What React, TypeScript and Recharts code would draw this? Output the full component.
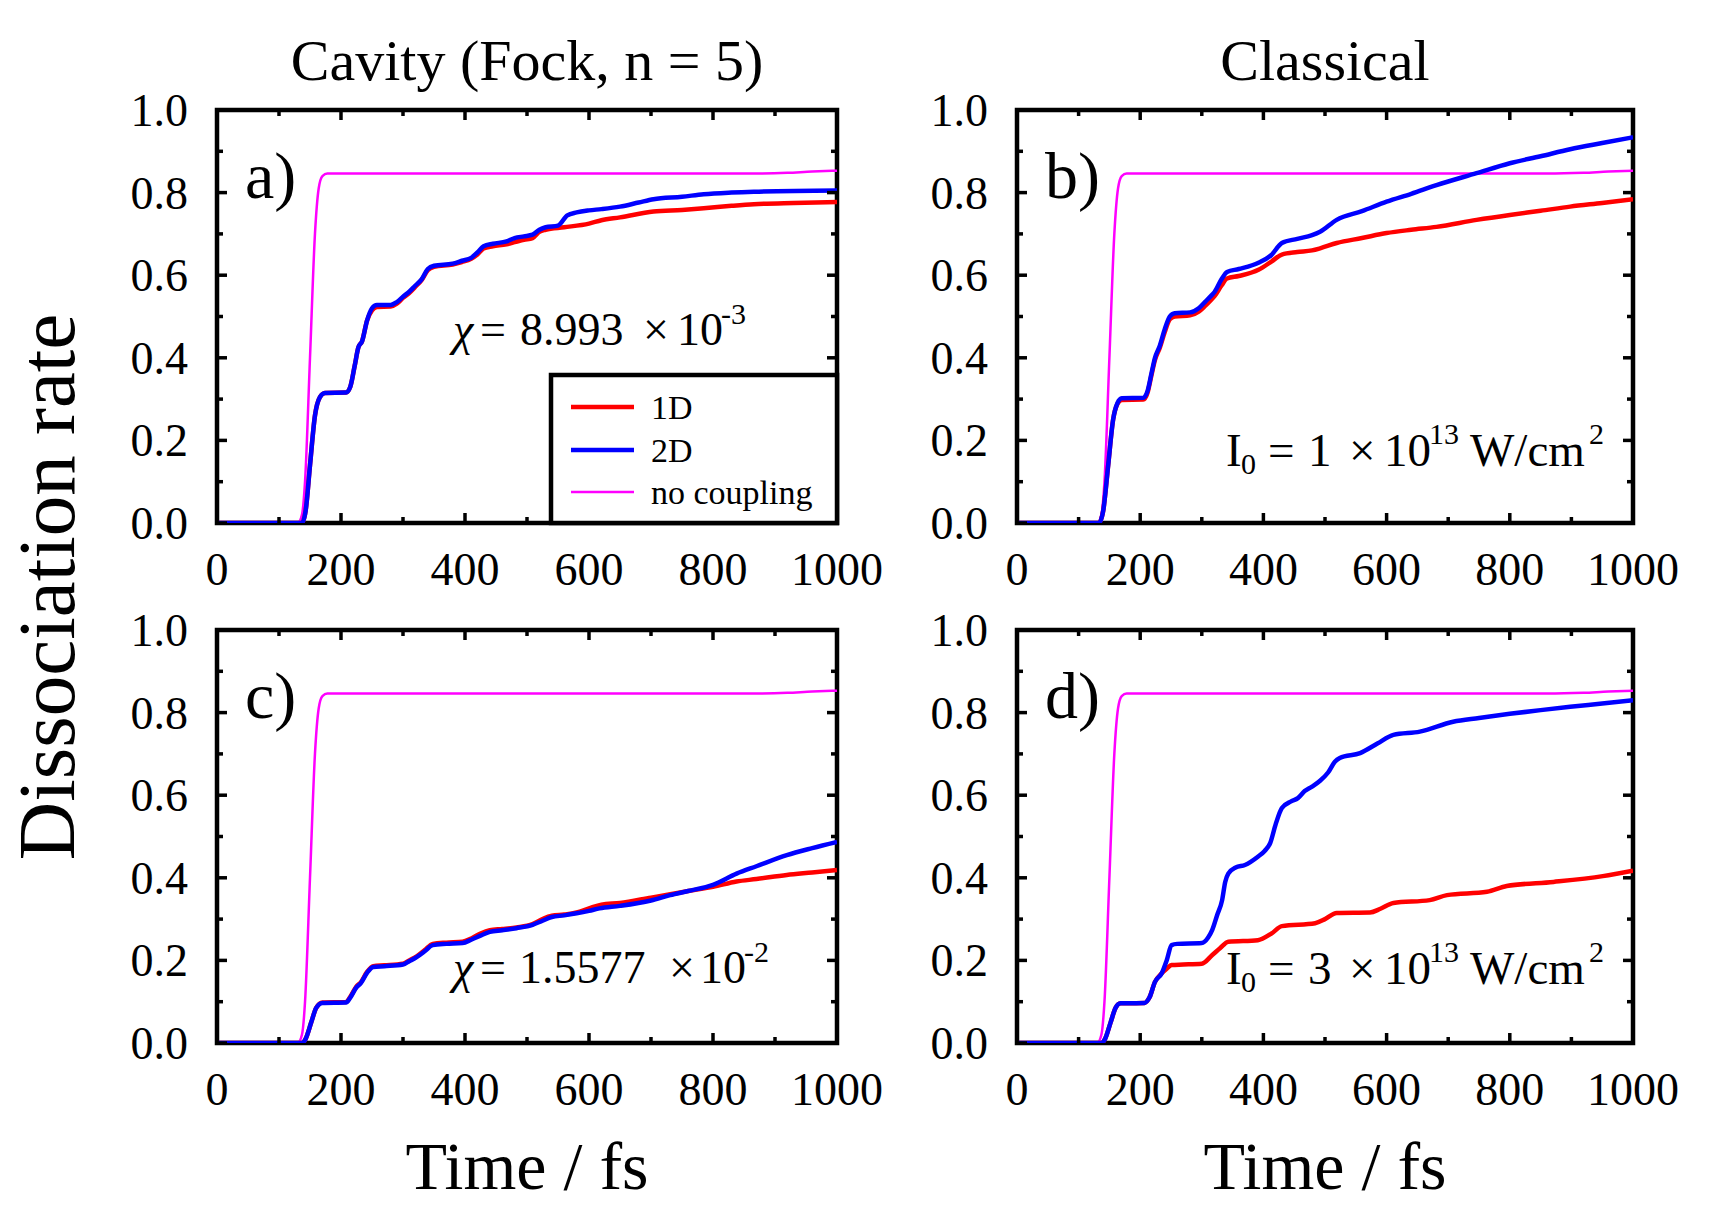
import React from "react";
import { LineChart, Line, XAxis, YAxis, ReferenceArea } from "recharts";

// Dissociation rate vs time (fs). Each curve keeps its own time grid.
const noCouplingT = [0, 130, 137, 142, 150, 158, 164, 170, 178, 860, 920, 960, 1000];
const noCouplingV = [0, 0, 0.02, 0.1, 0.4, 0.7, 0.81, 0.84, 0.846, 0.846, 0.848, 0.851, 0.853];

// a) cavity, chi = 8.993e-3
const aBlueT = [0, 137, 143, 150, 158, 166, 174, 208, 215, 222, 228, 234, 242, 250, 258, 280, 290, 300, 310, 320, 330, 340, 350, 380, 395, 410, 420, 430, 445, 467, 480, 495, 509, 520, 530, 550, 565, 580, 600, 620, 650, 680, 704, 750, 785, 830, 866, 1000];
const aBlueV = [0, 0, 0.03, 0.14, 0.26, 0.305, 0.315, 0.316, 0.33, 0.38, 0.425, 0.44, 0.49, 0.52, 0.528, 0.528, 0.535, 0.548, 0.56, 0.575, 0.59, 0.615, 0.623, 0.628, 0.635, 0.642, 0.655, 0.67, 0.676, 0.682, 0.69, 0.694, 0.698, 0.71, 0.716, 0.72, 0.745, 0.752, 0.757, 0.76, 0.766, 0.776, 0.784, 0.79, 0.796, 0.8, 0.802, 0.805];
const aRedT = [0, 137, 143, 150, 158, 166, 174, 208, 215, 222, 228, 234, 242, 250, 258, 280, 290, 300, 310, 320, 330, 340, 350, 380, 395, 410, 420, 430, 445, 467, 480, 495, 509, 520, 530, 560, 600, 620, 650, 704, 750, 785, 830, 866, 930, 1000];
const aRedV = [0, 0, 0.03, 0.14, 0.26, 0.305, 0.315, 0.316, 0.33, 0.38, 0.425, 0.44, 0.49, 0.515, 0.523, 0.524, 0.531, 0.545, 0.557, 0.572, 0.588, 0.612, 0.62, 0.626, 0.632, 0.64, 0.65, 0.665, 0.67, 0.675, 0.68, 0.686, 0.69, 0.705, 0.71, 0.716, 0.725, 0.733, 0.74, 0.754, 0.758, 0.762, 0.768, 0.772, 0.775, 0.777];

// b) classical, I0 = 1e13 W/cm^2
const bBlueT = [0, 133, 140, 148, 156, 163, 170, 205, 212, 218, 224, 232, 240, 248, 256, 281, 295, 305, 315, 321, 332, 341, 360, 392, 413, 430, 455, 479, 492, 519, 560, 600, 640, 681, 746, 800, 850, 898, 950, 1000];
const bBlueV = [0, 0, 0.03, 0.14, 0.25, 0.29, 0.302, 0.303, 0.32, 0.36, 0.4, 0.43, 0.47, 0.5, 0.508, 0.51, 0.52, 0.535, 0.55, 0.56, 0.59, 0.608, 0.615, 0.63, 0.649, 0.678, 0.688, 0.697, 0.705, 0.734, 0.755, 0.778, 0.797, 0.818, 0.847, 0.871, 0.888, 0.905, 0.92, 0.934];
const bRedT = bBlueT;
const bRedV = [0, 0, 0.03, 0.14, 0.25, 0.288, 0.298, 0.299, 0.316, 0.356, 0.395, 0.425, 0.463, 0.493, 0.5, 0.503, 0.512, 0.525, 0.54, 0.55, 0.575, 0.592, 0.598, 0.613, 0.633, 0.65, 0.656, 0.66, 0.665, 0.678, 0.69, 0.702, 0.71, 0.717, 0.734, 0.746, 0.756, 0.766, 0.775, 0.784];

// c) cavity, chi = 1.5577e-2
const cBlueT = [0, 137, 143, 152, 160, 170, 208, 215, 225, 232, 242, 252, 270, 300, 310, 322, 335, 348, 370, 396, 410, 425, 440, 460, 483, 509, 525, 540, 560, 580, 600, 617, 650, 700, 731, 760, 800, 838, 870, 919, 960, 1000];
const cBlueV = [0, 0, 0.01, 0.05, 0.085, 0.097, 0.098, 0.11, 0.135, 0.145, 0.17, 0.184, 0.186, 0.19, 0.198, 0.208, 0.222, 0.237, 0.24, 0.242, 0.25, 0.26, 0.269, 0.273, 0.278, 0.286, 0.296, 0.305, 0.309, 0.314, 0.32, 0.326, 0.332, 0.345, 0.358, 0.368, 0.383, 0.41, 0.428, 0.455, 0.472, 0.487];
const cRedT = [0, 137, 143, 152, 160, 170, 208, 215, 225, 232, 242, 252, 270, 300, 310, 322, 335, 348, 370, 396, 410, 425, 440, 460, 483, 509, 525, 540, 560, 580, 600, 620, 650, 700, 731, 760, 800, 838, 870, 919, 960, 1000];
const cRedV = [0, 0, 0.01, 0.05, 0.085, 0.098, 0.099, 0.112, 0.137, 0.147, 0.172, 0.186, 0.188, 0.192, 0.2, 0.21, 0.225, 0.24, 0.243, 0.245, 0.253, 0.265, 0.273, 0.276, 0.28, 0.288, 0.3, 0.308, 0.311, 0.316, 0.326, 0.335, 0.339, 0.352, 0.36, 0.368, 0.378, 0.391, 0.397, 0.407, 0.413, 0.419];

// d) classical, I0 = 3e13 W/cm^2
const dBlueT = [0, 137, 143, 152, 160, 168, 207, 215, 224, 235, 243, 251, 260, 300, 310, 317, 325, 333, 338, 343, 355, 370, 391, 402, 411, 420, 430, 445, 456, 467, 479, 492, 505, 516, 524, 557, 585, 611, 654, 708, 750, 800, 850, 898, 950, 1000];
const dBlueV = [0, 0, 0.01, 0.05, 0.085, 0.096, 0.097, 0.11, 0.148, 0.169, 0.2, 0.237, 0.24, 0.242, 0.255, 0.274, 0.31, 0.346, 0.39, 0.41, 0.425, 0.431, 0.451, 0.465, 0.484, 0.53, 0.569, 0.585, 0.593, 0.61, 0.621, 0.635, 0.655, 0.681, 0.69, 0.702, 0.725, 0.746, 0.754, 0.778, 0.787, 0.797, 0.806, 0.814, 0.822, 0.83];
const dRedT = [0, 137, 143, 152, 160, 168, 207, 215, 224, 235, 243, 251, 270, 300, 317, 330, 343, 391, 413, 430, 484, 500, 519, 573, 590, 611, 670, 698, 763, 795, 871, 951, 1000];
const dRedV = [0, 0, 0.01, 0.05, 0.085, 0.096, 0.097, 0.11, 0.148, 0.169, 0.18, 0.189, 0.19, 0.192, 0.213, 0.23, 0.245, 0.249, 0.265, 0.283, 0.29, 0.3, 0.315, 0.316, 0.325, 0.339, 0.346, 0.358, 0.366, 0.38, 0.39, 0.404, 0.417];

const xTicks = [0, 100, 200, 300, 400, 500, 600, 700, 800, 900, 1000];
const yTicks = [0, 0.1, 0.2, 0.3, 0.4, 0.5, 0.6, 0.7, 0.8, 0.9, 1.0];

const FONT = '"Liberation Serif", "Times New Roman", serif';
const RED = "#ff0000";
const BLUE = "#0000ff";
const MAGENTA = "#ff00ff";
const MAJOR = 10;
const MINOR = 6;
const TICK_W = 3.5;

const rows = (t: number[], v: number[]) => t.map((x, i) => ({ t: x, v: v[i] }));
const noCoupling = rows(noCouplingT, noCouplingV);

const isMajorX = (v: number) => v % 200 === 0;
const isMajorY = (v: number) => Math.round(v * 10) % 2 === 0;

// ticks point into the plot; labels sit outside
function BottomTick({ x, y, payload }: any) {
  const major = isMajorX(payload.value);
  return (
    <g>
      <line x1={x} x2={x} y1={y} y2={y - (major ? MAJOR : MINOR)} stroke="#000" strokeWidth={TICK_W} />
      {major && (
        <text x={x} y={y + 62} textAnchor="middle" fontSize={46} fontFamily={FONT} fill="#000">
          {payload.value}
        </text>
      )}
    </g>
  );
}

function TopTick({ x, y, payload }: any) {
  const major = isMajorX(payload.value);
  return <line x1={x} x2={x} y1={y} y2={y + (major ? MAJOR : MINOR)} stroke="#000" strokeWidth={TICK_W} />;
}

function LeftTick({ x, y, payload }: any) {
  const major = isMajorY(payload.value);
  return (
    <g>
      <line x1={x} x2={x + (major ? MAJOR : MINOR)} y1={y} y2={y} stroke="#000" strokeWidth={TICK_W} />
      {major && (
        <text x={x - 29} y={y + 16} textAnchor="end" fontSize={46} fontFamily={FONT} fill="#000">
          {payload.value.toFixed(1)}
        </text>
      )}
    </g>
  );
}

function RightTick({ x, y, payload }: any) {
  const major = isMajorY(payload.value);
  return <line x1={x} x2={x - (major ? MAJOR : MINOR)} y1={y} y2={y} stroke="#000" strokeWidth={TICK_W} />;
}

type PanelProps = {
  left: number;
  top: number;
  w: number;
  h: number;
  red: { t: number; v: number }[];
  blue: { t: number; v: number }[];
};

// axes are 1px thick bands so that they still render; margins absorb them
function Panel({ left, top, w, h, red, blue }: PanelProps) {
  const outer = { top: 40, right: 60, bottom: 84, left: 110 };
  const margin = { top: outer.top - 1, right: outer.right - 1, bottom: outer.bottom - 1, left: outer.left - 1 };
  return (
    <div style={{ position: "absolute", left: left - outer.left, top: top - outer.top }}>
      <LineChart width={w + outer.left + outer.right} height={h + outer.top + outer.bottom} margin={margin}>
        <XAxis xAxisId="b" dataKey="t" type="number" domain={[0, 1000]} ticks={xTicks} interval={0}
          height={1} tickSize={0} tickMargin={0} axisLine={false} tickLine={false} tick={<BottomTick />} allowDataOverflow />
        <XAxis xAxisId="t" dataKey="t" type="number" orientation="top" domain={[0, 1000]} ticks={xTicks} interval={0}
          height={1} tickSize={0} tickMargin={0} axisLine={false} tickLine={false} tick={<TopTick />} allowDataOverflow />
        <YAxis yAxisId="l" type="number" domain={[0, 1]} ticks={yTicks} interval={0}
          width={1} tickSize={0} tickMargin={0} axisLine={false} tickLine={false} tick={<LeftTick />} allowDataOverflow />
        <YAxis yAxisId="r" type="number" orientation="right" domain={[0, 1]} ticks={yTicks} interval={0}
          width={1} tickSize={0} tickMargin={0} axisLine={false} tickLine={false} tick={<RightTick />} allowDataOverflow />
        <Line xAxisId="b" yAxisId="l" data={noCoupling} dataKey="v" type="monotone" stroke={MAGENTA}
          strokeWidth={2.5} dot={false} isAnimationActive={false} />
        <Line xAxisId="b" yAxisId="l" data={red} dataKey="v" type="monotone" stroke={RED}
          strokeWidth={4.5} dot={false} isAnimationActive={false} />
        <Line xAxisId="b" yAxisId="l" data={blue} dataKey="v" type="monotone" stroke={BLUE}
          strokeWidth={4.5} dot={false} isAnimationActive={false} />
        <ReferenceArea xAxisId="b" yAxisId="l" x1={0} x2={1000} y1={0} y2={1}
          fill="none" fillOpacity={0} stroke="#000" strokeWidth={4.5} />
      </LineChart>
    </div>
  );
}

const txt = { fontFamily: FONT, fill: "#000" };

function Overlay() {
  return (
    <svg width={1719} height={1205} style={{ position: "absolute", left: 0, top: 0, pointerEvents: "none" }}>
      <g {...txt}>
        <text x={527} y={80} fontSize={58} textAnchor="middle">Cavity (Fock, n = 5)</text>
        <text x={1325} y={80} fontSize={58} textAnchor="middle">Classical</text>
        <text transform="translate(74,587) rotate(-90)" fontSize={81} textAnchor="middle">Dissociation rate</text>
        <text x={527} y={1189} fontSize={68} textAnchor="middle">Time / fs</text>
        <text x={1325} y={1189} fontSize={68} textAnchor="middle">Time / fs</text>

        <text x={245} y={198} fontSize={66}>a)</text>
        <text x={1045} y={198} fontSize={66}>b)</text>
        <text x={245} y={718} fontSize={66}>c)</text>
        <text x={1045} y={718} fontSize={66}>d)</text>

        {/* coupling strengths */}
        <g fontSize={46}>
          <text x={453} y={345} fontStyle="italic">χ</text>
          <text x={480} y={345}>=</text>
          <text x={520} y={345}>8.993</text>
          <text x={643} y={345}>×</text>
          <text x={677} y={345}>10</text>
          <text x={721} y={324} fontSize={30}>-3</text>

          <text x={453} y={983} fontStyle="italic">χ</text>
          <text x={480} y={983}>=</text>
          <text x={519} y={983}>1.5577</text>
          <text x={669} y={983}>×</text>
          <text x={700} y={983}>10</text>
          <text x={744} y={962} fontSize={30}>-2</text>
        </g>

        {/* field intensities */}
        {[{ y: 466, n: "1" }, { y: 984, n: "3" }].map((d) => (
          <g key={d.n} fontSize={47}>
            <text x={1226} y={d.y}>I</text>
            <text x={1241} y={d.y + 8} fontSize={30}>0</text>
            <text x={1268} y={d.y}>=</text>
            <text x={1308} y={d.y}>{d.n}</text>
            <text x={1349} y={d.y}>×</text>
            <text x={1384} y={d.y}>10</text>
            <text x={1429} y={d.y - 22} fontSize={30}>13</text>
            <text x={1470} y={d.y}>W/cm</text>
            <text x={1589} y={d.y - 22} fontSize={30}>2</text>
          </g>
        ))}

        {/* legend */}
        <rect x={551} y={375} width={286} height={148} fill="#fff" stroke="#000" strokeWidth={4.5} />
        <line x1={571} x2={634} y1={407} y2={407} stroke={RED} strokeWidth={4.5} />
        <line x1={571} x2={634} y1={450} y2={450} stroke={BLUE} strokeWidth={4.5} />
        <line x1={571} x2={634} y1={492} y2={492} stroke={MAGENTA} strokeWidth={2.5} />
        <g fontSize={34}>
          <text x={651} y={419}>1D</text>
          <text x={651} y={462}>2D</text>
          <text x={651} y={504}>no coupling</text>
        </g>
      </g>
    </svg>
  );
}

export default function App() {
  return (
    <div style={{ position: "absolute", left: 0, top: 0, width: 1719, height: 1205, background: "#fff" }}>
      <Panel left={217} top={110} w={620} h={413} red={rows(aRedT, aRedV)} blue={rows(aBlueT, aBlueV)} />
      <Panel left={1017} top={110} w={616} h={413} red={rows(bRedT, bRedV)} blue={rows(bBlueT, bBlueV)} />
      <Panel left={217} top={630} w={620} h={413} red={rows(cRedT, cRedV)} blue={rows(cBlueT, cBlueV)} />
      <Panel left={1017} top={630} w={616} h={413} red={rows(dRedT, dRedV)} blue={rows(dBlueT, dBlueV)} />
      <Overlay />
    </div>
  );
}
